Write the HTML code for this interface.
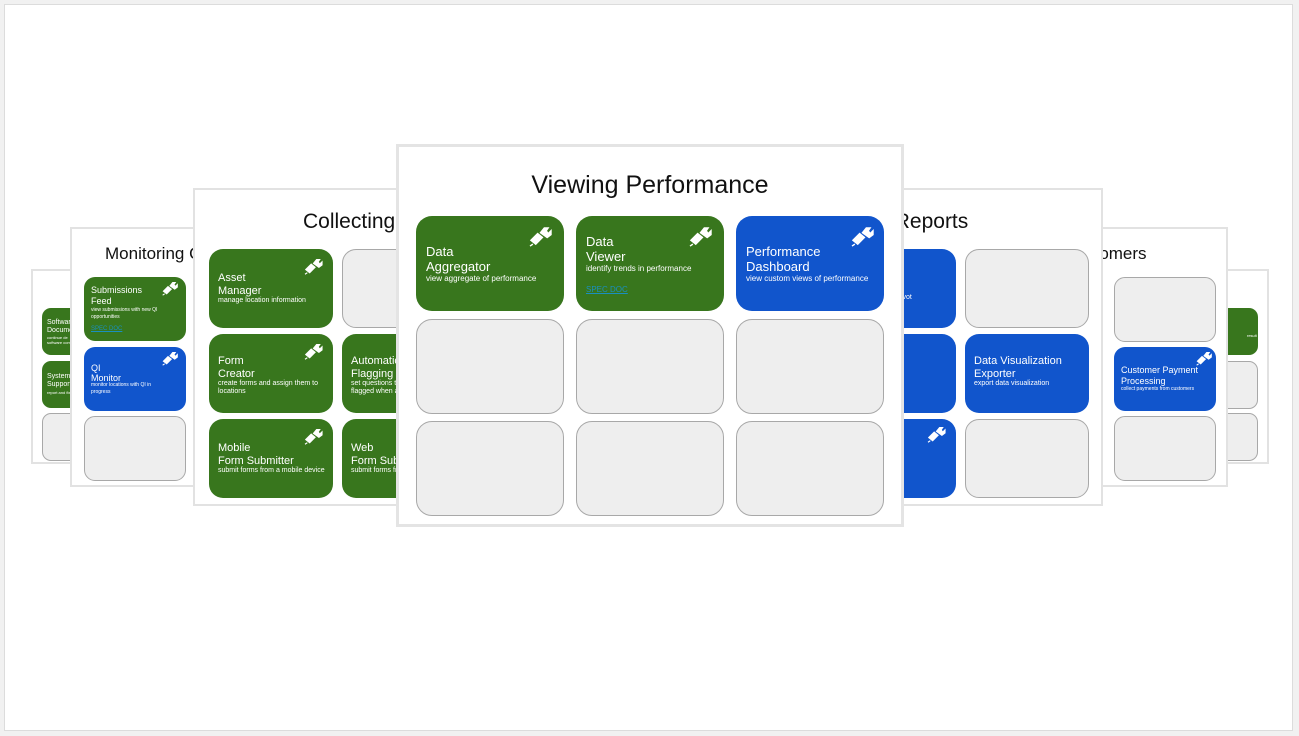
<!DOCTYPE html>
<html><head><meta charset="utf-8"><style>
*{margin:0;padding:0;box-sizing:border-box}
body{width:1299px;height:736px;background:#f1f1f1;position:relative;overflow:hidden;font-family:"Liberation Sans",Arial,sans-serif}
.frame{position:absolute;left:4px;top:4px;width:1289px;height:727px;background:#fff;border:1px solid #dcdcdc}
.p{position:absolute;background:#fff;border:2px solid #e2e2e2;overflow:hidden}
.t{position:absolute;color:#111;white-space:nowrap}
.c{position:absolute;border-radius:14px;color:#fff;overflow:hidden}
.g{background:#38761d}.b{background:#1155cc}.e{background:#eeeeee;border:1px solid #a8a8a8}
.c .n{position:absolute;white-space:nowrap}
.c .d{position:absolute;white-space:nowrap}
.lnk{position:absolute;color:#1a8fbf;text-decoration:underline;white-space:nowrap}
svg.w{position:absolute}
</style></head><body>
<div class="frame"></div>

<!-- far left panel -->
<div class="p" style="left:31px;top:269px;width:60px;height:195px">
 <div class="c g" style="left:9px;top:37px;width:60px;height:47px;border-radius:9px"><div class="n" style="left:5px;top:11px;font-size:7px;line-height:8px">Software<br>Documentation</div><div class="d" style="left:5px;top:27px;font-size:4px;line-height:5px">continue de<br>software com</div></div>
 <div class="c g" style="left:9px;top:90px;width:60px;height:47px;border-radius:9px"><div class="n" style="left:5px;top:12px;font-size:7px;line-height:8px">System<br>Support</div><div class="d" style="left:5px;top:29px;font-size:4px">report and fix</div></div>
 <div class="c e" style="left:9px;top:142px;width:60px;height:48px;border-radius:9px"></div>
</div>
<!-- far right panel -->
<div class="p" style="left:1208px;top:269px;width:61px;height:195px">
 <div class="c g" style="left:-20px;top:37px;width:68px;height:47px;border-radius:9px"><div class="d" style="left:57px;top:25px;font-size:4px">result</div></div>
 <div class="c e" style="left:-20px;top:90px;width:68px;height:48px;border-radius:9px"></div>
 <div class="c e" style="left:-20px;top:142px;width:68px;height:48px;border-radius:9px"></div>
</div>

<!-- Monitoring -->
<div class="p" style="left:70px;top:227px;width:200px;height:260px">
 <div class="t" style="left:33px;top:15px;font-size:17px">Monitoring Quality</div>
 <div class="c g" style="left:12px;top:48px;width:102px;height:64px;border-radius:11px">
  <div class="n" style="left:7px;top:8px;font-size:9px;line-height:11px">Submissions<br>Feed</div>
  <div class="d" style="left:7px;top:30px;font-size:5px;line-height:7px">view submissions with new QI<br>opportunities</div>
  <div class="lnk" style="left:7px;top:49px;font-size:6px">SPEC DOC</div>
  <svg class="w" style="left:78px;top:4px" width="16" height="15" viewBox="0 0 24 22"><path d="M2 15 L9 8 L14 12 L7 19 Z M4 19 L1 21 M12 7 L16 2 L20 2 L18 5 L20 8 L23 5 L23 9 L19 12 Z" fill="#fff" stroke="#fff" stroke-width="1.5"/></svg>
 </div>
 <div class="c b" style="left:12px;top:118px;width:102px;height:64px;border-radius:11px">
  <div class="n" style="left:7px;top:16px;font-size:9px;line-height:10px">QI<br>Monitor</div>
  <div class="d" style="left:7px;top:35px;font-size:5px;line-height:7px">monitor locations with QI in<br>progress</div>
  <svg class="w" style="left:78px;top:4px" width="16" height="15" viewBox="0 0 24 22"><path d="M2 15 L9 8 L14 12 L7 19 Z M4 19 L1 21 M12 7 L16 2 L20 2 L18 5 L20 8 L23 5 L23 9 L19 12 Z" fill="#fff" stroke="#fff" stroke-width="1.5"/></svg>
 </div>
 <div class="c e" style="left:12px;top:187px;width:102px;height:65px;border-radius:11px"></div>
</div>
<!-- Customers -->
<div class="p" style="left:1030px;top:227px;width:198px;height:260px">
 <div class="t" style="left:-30px;top:15px;font-size:17px">Serving Customers</div>
 <div class="c e" style="left:82px;top:48px;width:102px;height:65px;border-radius:11px"></div>
 <div class="c b" style="left:82px;top:118px;width:102px;height:64px;border-radius:11px">
  <div class="n" style="left:7px;top:18px;font-size:9px;line-height:11px">Customer Payment<br>Processing</div>
  <div class="d" style="left:7px;top:39px;font-size:5px">collect payments from customers</div>
  <svg class="w" style="left:82px;top:4px" width="16" height="15" viewBox="0 0 24 22"><path d="M2 15 L9 8 L14 12 L7 19 Z M4 19 L1 21 M12 7 L16 2 L20 2 L18 5 L20 8 L23 5 L23 9 L19 12 Z" fill="#fff" stroke="#fff" stroke-width="1.5"/></svg>
 </div>
 <div class="c e" style="left:82px;top:187px;width:102px;height:65px;border-radius:11px"></div>
</div>

<!-- Collecting -->
<div class="p" style="left:193px;top:188px;width:405px;height:318px">
 <div class="t" style="left:108px;top:20px;font-size:21px">Collecting Data</div>
 <div class="c g" style="left:14px;top:59px;width:124px;height:79px">
  <div class="n" style="left:9px;top:23px;font-size:11px;line-height:13px">Asset<br>Manager</div>
  <div class="d" style="left:9px;top:48px;font-size:7px">manage location information</div>
  <svg class="w" style="left:95px;top:9px" width="19" height="17" viewBox="0 0 24 22"><path d="M2 15 L9 8 L14 12 L7 19 Z M4 19 L1 21 M12 7 L16 2 L20 2 L18 5 L20 8 L23 5 L23 9 L19 12 Z" fill="#fff" stroke="#fff" stroke-width="1.5"/></svg>
 </div>
 <div class="c e" style="left:147px;top:59px;width:124px;height:79px"></div>
 <div class="c g" style="left:14px;top:144px;width:124px;height:79px">
  <div class="n" style="left:9px;top:21px;font-size:11px;line-height:13px">Form<br>Creator</div>
  <div class="d" style="left:9px;top:46px;font-size:7px;line-height:8px">create forms and assign them to<br>locations</div>
  <svg class="w" style="left:95px;top:9px" width="19" height="17" viewBox="0 0 24 22"><path d="M2 15 L9 8 L14 12 L7 19 Z M4 19 L1 21 M12 7 L16 2 L20 2 L18 5 L20 8 L23 5 L23 9 L19 12 Z" fill="#fff" stroke="#fff" stroke-width="1.5"/></svg>
 </div>
 <div class="c g" style="left:147px;top:144px;width:124px;height:79px">
  <div class="n" style="left:9px;top:21px;font-size:11px;line-height:13px">Automatic<br>Flagging</div>
  <div class="d" style="left:9px;top:46px;font-size:7px;line-height:8px">set questions to be<br>flagged when answered</div>
 </div>
 <div class="c g" style="left:14px;top:229px;width:124px;height:79px">
  <div class="n" style="left:9px;top:23px;font-size:11px;line-height:13px">Mobile<br>Form Submitter</div>
  <div class="d" style="left:9px;top:48px;font-size:7px">submit forms from a mobile device</div>
  <svg class="w" style="left:95px;top:9px" width="19" height="17" viewBox="0 0 24 22"><path d="M2 15 L9 8 L14 12 L7 19 Z M4 19 L1 21 M12 7 L16 2 L20 2 L18 5 L20 8 L23 5 L23 9 L19 12 Z" fill="#fff" stroke="#fff" stroke-width="1.5"/></svg>
 </div>
 <div class="c g" style="left:147px;top:229px;width:124px;height:79px">
  <div class="n" style="left:9px;top:23px;font-size:11px;line-height:13px">Web<br>Form Submitter</div>
  <div class="d" style="left:9px;top:48px;font-size:7px">submit forms from the web</div>
 </div>
</div>
<!-- Reports -->
<div class="p" style="left:697px;top:188px;width:406px;height:318px">
 <div class="t" style="left:86px;top:20px;font-size:21px">Generating Reports</div>
 <div class="c b" style="left:133px;top:59px;width:124px;height:79px">
  <div class="n" style="left:9px;top:19px;font-size:11px;line-height:13px">Pivot<br>Data</div>
  <div class="d" style="left:9px;top:45px;font-size:7px">analyze results in pivot</div>
 </div>
 <div class="c e" style="left:266px;top:59px;width:124px;height:79px"></div>
 <div class="c b" style="left:133px;top:144px;width:124px;height:79px">
  <div class="d" style="left:9px;top:48px;font-size:7px">export reports</div>
 </div>
 <div class="c b" style="left:266px;top:144px;width:124px;height:79px">
  <div class="n" style="left:9px;top:21px;font-size:11px;line-height:13px">Data Visualization<br>Exporter</div>
  <div class="d" style="left:9px;top:46px;font-size:7px">export data visualization</div>
 </div>
 <div class="c b" style="left:133px;top:229px;width:124px;height:79px">
  <div class="d" style="left:9px;top:48px;font-size:7px">schedule reports</div>
  <svg class="w" style="left:95px;top:7px" width="19" height="17" viewBox="0 0 24 22"><path d="M2 15 L9 8 L14 12 L7 19 Z M4 19 L1 21 M12 7 L16 2 L20 2 L18 5 L20 8 L23 5 L23 9 L19 12 Z" fill="#fff" stroke="#fff" stroke-width="1.5"/></svg>
 </div>
 <div class="c e" style="left:266px;top:229px;width:124px;height:79px"></div>
</div>

<!-- Center -->
<div class="p" style="left:396px;top:144px;width:508px;height:383px;border:3px solid #e4e4e4">
 <div class="t" style="left:0;width:502px;text-align:center;top:24px;font-size:25px">Viewing Performance</div>
 <div class="c g" style="left:17px;top:69px;width:148px;height:95px;border-radius:16px">
  <div class="n" style="left:10px;top:28px;font-size:13px;line-height:15px">Data<br>Aggregator</div>
  <div class="d" style="left:10px;top:58px;font-size:8px">view aggregate of performance</div>
  <svg class="w" style="left:113px;top:10px" width="23" height="21" viewBox="0 0 24 22"><path d="M2 15 L9 8 L14 12 L7 19 Z M4 19 L1 21 M12 7 L16 2 L20 2 L18 5 L20 8 L23 5 L23 9 L19 12 Z" fill="#fff" stroke="#fff" stroke-width="1.5"/></svg>
 </div>
 <div class="c g" style="left:177px;top:69px;width:148px;height:95px;border-radius:16px">
  <div class="n" style="left:10px;top:18px;font-size:13px;line-height:15px">Data<br>Viewer</div>
  <div class="d" style="left:10px;top:48px;font-size:8px">identify trends in performance</div>
  <div class="lnk" style="left:10px;top:69px;font-size:8px">SPEC DOC</div>
  <svg class="w" style="left:113px;top:10px" width="23" height="21" viewBox="0 0 24 22"><path d="M2 15 L9 8 L14 12 L7 19 Z M4 19 L1 21 M12 7 L16 2 L20 2 L18 5 L20 8 L23 5 L23 9 L19 12 Z" fill="#fff" stroke="#fff" stroke-width="1.5"/></svg>
 </div>
 <div class="c b" style="left:337px;top:69px;width:148px;height:95px;border-radius:16px">
  <div class="n" style="left:10px;top:28px;font-size:13px;line-height:15px">Performance<br>Dashboard</div>
  <div class="d" style="left:10px;top:58px;font-size:8px">view custom views of performance</div>
  <svg class="w" style="left:115px;top:10px" width="23" height="21" viewBox="0 0 24 22"><path d="M2 15 L9 8 L14 12 L7 19 Z M4 19 L1 21 M12 7 L16 2 L20 2 L18 5 L20 8 L23 5 L23 9 L19 12 Z" fill="#fff" stroke="#fff" stroke-width="1.5"/></svg>
 </div>
 <div class="c e" style="left:17px;top:172px;width:148px;height:95px;border-radius:16px"></div>
 <div class="c e" style="left:177px;top:172px;width:148px;height:95px;border-radius:16px"></div>
 <div class="c e" style="left:337px;top:172px;width:148px;height:95px;border-radius:16px"></div>
 <div class="c e" style="left:17px;top:274px;width:148px;height:95px;border-radius:16px"></div>
 <div class="c e" style="left:177px;top:274px;width:148px;height:95px;border-radius:16px"></div>
 <div class="c e" style="left:337px;top:274px;width:148px;height:95px;border-radius:16px"></div>
</div>
</body></html>
